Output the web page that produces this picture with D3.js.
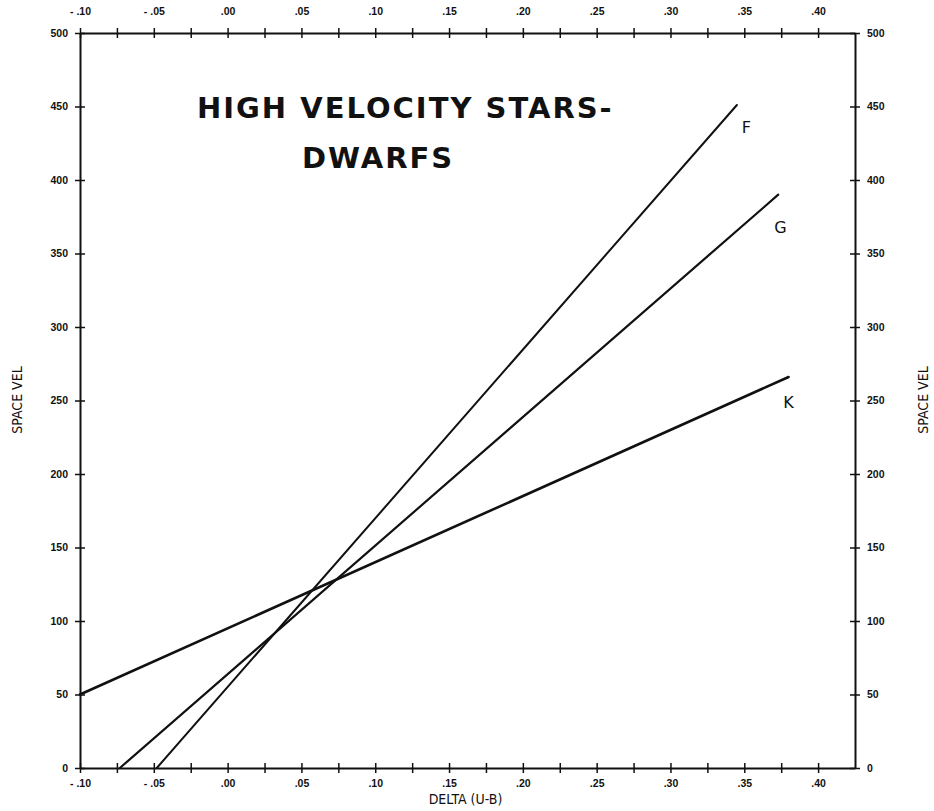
<!DOCTYPE html>
<html>
<head>
<meta charset="utf-8">
<script src="https://cdn.jsdelivr.net/npm/d3@7"></script>
<style>
  body { margin: 0; background: #fff; }
  .tick text { font-family: "Liberation Sans", Arial, sans-serif; font-size: 10.5px; font-weight: bold; fill: #111; }
  .labels { font-family: "DejaVu Sans Condensed", "DejaVu Sans", sans-serif; font-size: 14px; fill: #111; }
  .heading { font-family: "DejaVu Sans", sans-serif; font-weight: bold; font-size: 29px; fill: #111; letter-spacing: 2px; }
  .linelabel { font-family: "DejaVu Sans", sans-serif; font-size: 16px; fill: #111; }
</style>
</head>
<body>
<script>
// x ticks (delta U-B) and y ticks (space velocity)
var xTicks = [-0.10, -0.05, 0.00, 0.05, 0.10, 0.15, 0.20, 0.25, 0.30, 0.35, 0.40];
var xMinor = [-0.075, -0.025, 0.025, 0.075, 0.125, 0.175, 0.225, 0.275, 0.325, 0.375];
var yTicks = [0, 50, 100, 150, 200, 250, 300, 350, 400, 450, 500];

// fitted lines: start and end points
var lineNames = ["F", "G", "K"];
var lineX0 = [-0.048, -0.073, -0.10];
var lineY0 = [0, 0, 50];
var lineX1 = [0.345, 0.373, 0.38];
var lineY1 = [451, 390, 266];
var lineWidth = [2, 2.2, 2.6];

var width = 934, height = 811;
var plotLeft = 80, plotRight = 855, plotTop = 33, plotBottom = 768;

var svg = d3.select("body").append("svg")
    .attr("width", width)
    .attr("height", height);

var x = d3.scaleLinear().domain([-0.10, 0.425]).range([plotLeft, plotRight]);
var y = d3.scaleLinear().domain([0, 500]).range([plotBottom, plotTop]);

function fmt(d) {
    var s = Math.abs(d).toFixed(2).replace(/^0/, "");
    return d < -1e-9 ? "- " + s : s;
}

function isMajor(d) {
    return xTicks.some(function(t) { return Math.abs(t - d) < 1e-9; });
}

// ticks that cross the axis line
function crossTicks(g, horizontal) {
    g.select(".domain").attr("stroke", "#111").attr("stroke-width", 2);
    g.selectAll(".tick line")
        .attr("stroke", "#111").attr("stroke-width", 1.5)
        .attr(horizontal ? "y1" : "x1", -5)
        .attr(horizontal ? "y2" : "x2", 5);
}

var allX = xTicks.concat(xMinor).sort(d3.ascending);

// bottom axis
svg.append("g")
    .attr("transform", "translate(0," + plotBottom + ")")
    .call(d3.axisBottom(x).tickValues(allX).tickSizeOuter(0)
        .tickFormat(function(d) { return isMajor(d) ? fmt(d) : ""; })
        .tickPadding(6))
    .call(function(g) { crossTicks(g, true); });

// top axis
svg.append("g")
    .attr("transform", "translate(0," + plotTop + ")")
    .call(d3.axisTop(x).tickValues(allX).tickSizeOuter(0)
        .tickFormat(function(d) { return isMajor(d) ? fmt(d) : ""; })
        .tickPadding(12))
    .call(function(g) { crossTicks(g, true); });

// left axis
svg.append("g")
    .attr("transform", "translate(" + plotLeft + ",0)")
    .call(d3.axisLeft(y).tickValues(yTicks).tickSizeOuter(0).tickPadding(6))
    .call(function(g) { crossTicks(g, false); });

// right axis
svg.append("g")
    .attr("transform", "translate(" + plotRight + ",0)")
    .call(d3.axisRight(y).tickValues(yTicks).tickSizeOuter(0).tickPadding(6))
    .call(function(g) { crossTicks(g, false); });

// lines
lineNames.forEach(function(name, i) {
    svg.append("line")
        .attr("x1", x(lineX0[i])).attr("y1", y(lineY0[i]))
        .attr("x2", x(lineX1[i])).attr("y2", y(lineY1[i]))
        .attr("stroke", "#111")
        .attr("stroke-width", lineWidth[i])
        .attr("stroke-linecap", "round");
});

// line labels
svg.append("text").attr("class", "linelabel").text("F").attr("x", x(0.347)).attr("y", y(432)).attr("dx", 2);
svg.append("text").attr("class", "linelabel").text("G").attr("x", x(0.369)).attr("y", y(364)).attr("dx", 2);
svg.append("text").attr("class", "linelabel").text("K").attr("x", x(0.375)).attr("y", y(245)).attr("dx", 2);

// heading
svg.append("text").attr("class", "heading").text("HIGH VELOCITY STARS-")
    .attr("x", 197).attr("y", 118);
svg.append("text").attr("class", "heading").text("DWARFS")
    .attr("x", 302).attr("y", 168);

// axis labels
svg.append("text").attr("class", "labels").text("DELTA (U-B)")
    .attr("x", (plotLeft + plotRight) / 2 - 2).attr("y", 804).attr("text-anchor", "middle");

svg.append("text").attr("class", "labels").text("SPACE VEL")
    .attr("transform", "translate(22,400) rotate(-90)").attr("text-anchor", "middle");

svg.append("text").attr("class", "labels").text("SPACE VEL")
    .attr("transform", "translate(928,400) rotate(-90)").attr("text-anchor", "middle");
</script>
</body>
</html>
